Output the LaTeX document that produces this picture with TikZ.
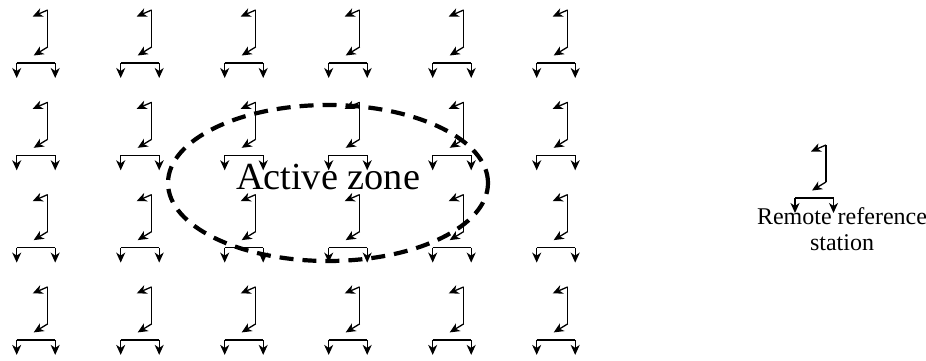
\documentclass[tikz,border=0pt]{standalone}
\usepackage{fontspec}
\setmainfont{Liberation Serif}
\usetikzlibrary{arrows.meta,shapes.geometric}
\tikzset{
  sig/.style={line width=1.3pt,-{Stealth[length=10pt,width=9pt,inset=3pt]}},
  barline/.style={line width=1.3pt},
  station/.pic={
    \draw[barline] (0,0) -- (0,37);
    \draw[sig] (0,0) -- (-15,6.5);
    \draw[sig] (0,37) -- (-14,45.5);
    \draw[barline] (-31,53) -- (7.5,53);
    \draw[sig] (-31,53) -- (-31,68);
    \draw[sig] (7.5,53) -- (7.5,68);
  },
  zonestyle/.style={ellipse, draw, line width=4.2pt, dash pattern=on 14pt off 9pt,
    minimum width=320pt, minimum height=156pt, inner sep=0pt},
  bigtext/.style={font=\fontsize{38.3}{45}\selectfont},
  remtext/.style={font=\fontsize{24}{25.5}\selectfont, align=center}
}
\begin{document}
\begin{tikzpicture}[x=1pt,y=-1pt]
\useasboundingbox (0,0) rectangle (926,361);
\foreach \i in {0,...,5}{
  \foreach \j in {0,...,3}{
    \pic (g\i\j) at ({47.7+104*\i},{10+92.3*\j}) {station};
  }
}
\pic (remote) at (826,145) {station};
\node[remtext, anchor=base] (remlabel) at (842,250) {Remote reference\\station};
\node[bigtext, anchor=base] (zonelabel) at (328,189) {Active zone};
\node[zonestyle] (zone) at (328,183) {};
\end{tikzpicture}
\end{document}
